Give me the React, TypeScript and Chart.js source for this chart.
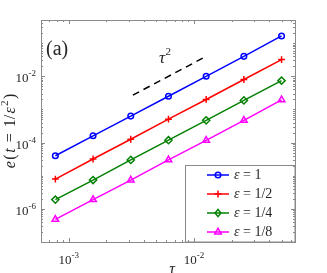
import React, { useEffect, useRef } from 'react';
import { Chart, registerables } from 'chart.js';
Chart.register(...registerables);

// ---- data ----
const tau = [7.8125e-4, 1.5625e-3, 3.125e-3, 6.25e-3, 0.0125, 0.025, 0.05];
const errEps1 = [4.0e-5, 1.6e-4, 6.3e-4, 2.5e-3, 1.0e-2, 4.0e-2, 0.165];
const errEps2 = [7.9e-6, 3.2e-5, 1.26e-4, 5.1e-4, 2.0e-3, 8.0e-3, 0.032];
const errEps4 = [1.9e-6, 7.4e-6, 3.0e-5, 1.18e-4, 4.7e-4, 1.87e-3, 7.4e-3];
const errEps8 = [4.8e-7, 1.9e-6, 7.4e-6, 3.0e-5, 1.17e-4, 4.7e-4, 1.95e-3];
const epsLabels = ['1', '1/2', '1/4', '1/8'];
const refTau = [3.25e-3, 0.0125];
const refErr = [2.7e-3, 0.04];
const xTickExps = [-3, -2];
const yTickExps = [-6, -4, -2];
const xMin = 6e-4, xMax = 0.064, yMin = 1e-7, yMax = 0.5;

const colors = ['#0000ff', '#ff0000', '#008000', '#ff00ff'];
const styles = ['circle', 'cross', 'rectRot', 'triangle'];
const radii = [2.8, 3.4, 3.6, 3.8];

const SERIF = '"Liberation Serif", "Times New Roman", serif';
const AXIS_COLOR = '#8a8a8a';
const TEXT_COLOR = '#262626';

function drawMarker(ctx: CanvasRenderingContext2D, style: string, x: number, y: number, r: number, color: string) {
  ctx.save();
  ctx.strokeStyle = color;
  ctx.lineWidth = 1.5;
  ctx.beginPath();
  if (style === 'circle') {
    ctx.arc(x, y, r, 0, Math.PI * 2);
  } else if (style === 'cross') {
    ctx.moveTo(x - r, y); ctx.lineTo(x + r, y);
    ctx.moveTo(x, y - r); ctx.lineTo(x, y + r);
  } else if (style === 'rectRot') {
    ctx.moveTo(x, y - r); ctx.lineTo(x + r * 0.8, y); ctx.lineTo(x, y + r); ctx.lineTo(x - r * 0.8, y); ctx.closePath();
  } else {
    const h = r * 1.5;
    ctx.moveTo(x, y - r); ctx.lineTo(x + h * 0.58, y + r * 0.5); ctx.lineTo(x - h * 0.58, y + r * 0.5); ctx.closePath();
  }
  ctx.stroke();
  ctx.restore();
}

function powLabel(ctx: CanvasRenderingContext2D, exp: number, x: number, baseline: number, align: 'center' | 'right') {
  const base = '10';
  const sup = '-' + Math.abs(exp);
  ctx.font = `13px ${SERIF}`;
  const wb = ctx.measureText(base).width;
  ctx.font = `9px ${SERIF}`;
  const ws = ctx.measureText(sup).width;
  const total = wb + ws;
  const left = align === 'center' ? x - total / 2 : x - total;
  ctx.fillStyle = TEXT_COLOR;
  ctx.textAlign = 'left';
  ctx.textBaseline = 'alphabetic';
  ctx.font = `13px ${SERIF}`;
  ctx.fillText(base, left, baseline);
  ctx.font = `9px ${SERIF}`;
  ctx.fillText(sup, left + wb, baseline - 6);
}

const decorPlugin = {
  id: 'decor',
  afterDatasetsDraw(chart: any) {
    const ctx: CanvasRenderingContext2D = chart.ctx;
    const { left, right, top, bottom } = chart.chartArea;
    const xs = chart.scales.x;
    const ys = chart.scales.y;
    ctx.save();

    // legend
    const lx0 = 185.5, ly0 = 165.5;
    ctx.fillStyle = '#fff';
    ctx.fillRect(lx0, ly0, right - lx0, bottom - ly0);
    ctx.strokeStyle = AXIS_COLOR;
    ctx.lineWidth = 1;
    ctx.strokeRect(lx0, ly0, right - lx0, bottom - ly0);
    const rowY = [175, 194, 213, 232];
    epsLabels.forEach((lab, i) => {
      const y = rowY[i];
      ctx.strokeStyle = colors[i];
      ctx.lineWidth = 1.5;
      ctx.beginPath();
      ctx.moveTo(207, y); ctx.lineTo(229, y); ctx.stroke();
      drawMarker(ctx, styles[i], 218, y, radii[i], colors[i]);
      ctx.fillStyle = TEXT_COLOR;
      ctx.textAlign = 'left';
      ctx.textBaseline = 'middle';
      ctx.font = `italic 14px ${SERIF}`;
      ctx.fillText('ε', 234, y);
      const we = ctx.measureText('ε').width;
      ctx.font = `14px ${SERIF}`;
      ctx.fillText(' = ' + lab, 234 + we, y);
    });

    // box
    ctx.strokeStyle = AXIS_COLOR;
    ctx.lineWidth = 1;
    ctx.strokeRect(Math.round(left) + 0.5, Math.round(top) + 0.5, Math.round(right - left), Math.round(bottom - top));

    // ticks
    ctx.beginPath();
    for (let n = -5; n <= 0; n++) {
      for (let k = 1; k <= 9; k++) {
        const v = k * Math.pow(10, n);
        if (v < xMin || v > xMax) continue;
        const px = Math.round(xs.getPixelForValue(v)) + 0.5;
        const len = k === 1 ? 4 : 2;
        ctx.moveTo(px, bottom); ctx.lineTo(px, bottom - len);
        ctx.moveTo(px, top); ctx.lineTo(px, top + len);
      }
    }
    for (let n = -8; n <= 0; n++) {
      for (let k = 1; k <= 9; k++) {
        const v = k * Math.pow(10, n);
        if (v < yMin || v > yMax) continue;
        const py = Math.round(ys.getPixelForValue(v)) + 0.5;
        const len = k === 1 && yTickExps.includes(n) ? 4 : 2;
        ctx.moveTo(left, py); ctx.lineTo(left + len, py);
        ctx.moveTo(right, py); ctx.lineTo(right - len, py);
      }
    }
    ctx.stroke();

    // tick labels
    xTickExps.forEach((e) => powLabel(ctx, e, xs.getPixelForValue(Math.pow(10, e)), 264, 'center'));
    yTickExps.forEach((e) => powLabel(ctx, e, 36, ys.getPixelForValue(Math.pow(10, e)) + 6, 'right'));

    // x-axis label
    ctx.fillStyle = TEXT_COLOR;
    ctx.textAlign = 'center';
    ctx.textBaseline = 'alphabetic';
    ctx.font = `italic 16px ${SERIF}`;
    ctx.fillText('τ', (left + right) / 2 + 4, 274);

    // y-axis label (rotated), pieces
    const pieces: [string, string, number][] = [
      ['e', `italic 16px ${SERIF}`, 0],
      ['(', `16px ${SERIF}`, 0],
      ['t', `italic 16px ${SERIF}`, 0],
      ['=', `16px ${SERIF}`, 0],
      ['1/', `16px ${SERIF}`, 0],
      ['ε', `italic 16px ${SERIF}`, 0],
      ['2', `11px ${SERIF}`, -7],
      [')', `16px ${SERIF}`, 0],
    ];
    const gaps = [1.5, 1.5, 6, 6, 1.5, 1, 1.5, 0];
    let total = 0;
    const widths = pieces.map((p, i) => {
      ctx.font = p[1];
      const w = ctx.measureText(p[0]).width;
      total += w + gaps[i];
      return w;
    });
    total -= gaps[gaps.length - 1];
    ctx.save();
    ctx.translate(15, (top + bottom) / 2);
    ctx.rotate(-Math.PI / 2);
    ctx.textAlign = 'left';
    let cx = -total / 2;
    pieces.forEach((p, i) => {
      ctx.font = p[1];
      ctx.fillText(p[0], cx, p[2]);
      cx += widths[i] + gaps[i];
    });
    ctx.restore();

    // panel label
    ctx.textAlign = 'left';
    ctx.font = `20px ${SERIF}`;
    ctx.fillText('(a)', 46, 55);

    // slope annotation
    ctx.font = `italic 17px ${SERIF}`;
    ctx.fillText('τ', 159, 63);
    const wt = ctx.measureText('τ').width;
    ctx.font = `11px ${SERIF}`;
    ctx.fillText('2', 159 + wt + 0.5, 55);

    ctx.restore();
  },
};

export default function App() {
  const ref = useRef<HTMLCanvasElement | null>(null);
  useEffect(() => {
    if (!ref.current) return;
    const series = [errEps1, errEps2, errEps4, errEps8];
    const datasets: any[] = series.map((vals, i) => ({
      label: 'ε = ' + epsLabels[i],
      data: tau.map((t, j) => ({ x: t, y: vals[j] })),
      borderColor: colors[i],
      borderWidth: 1.5,
      pointStyle: styles[i],
      pointRadius: radii[i],
      pointBorderColor: colors[i],
      pointBackgroundColor: 'rgba(0,0,0,0)',
      pointBorderWidth: 1.5,
      fill: false,
      tension: 0,
    }));
    datasets.push({
      label: 'ref',
      data: refTau.map((t, j) => ({ x: t, y: refErr[j] })),
      borderColor: '#000',
      borderWidth: 1.5,
      borderDash: [7, 5],
      pointRadius: 0,
      fill: false,
    });
    const chart = new Chart(ref.current, {
      type: 'line',
      data: { datasets },
      options: {
        animation: false,
        responsive: false,
        devicePixelRatio: 1,
        layout: { padding: { left: 41, top: 20, right: 32, bottom: 31 } },
        plugins: { legend: { display: false }, tooltip: { enabled: false } },
        scales: {
          x: { type: 'logarithmic', min: xMin, max: xMax, display: false },
          y: { type: 'logarithmic', min: yMin, max: yMax, display: false },
        },
      },
      plugins: [decorPlugin],
    } as any);
    return () => chart.destroy();
  }, []);
  return (
    <div style={{ position: 'fixed', left: 0, top: 0, width: 327, height: 273, background: '#fff' }}>
      <canvas ref={ref} width={327} height={273} style={{ display: 'block' }} />
    </div>
  );
}
